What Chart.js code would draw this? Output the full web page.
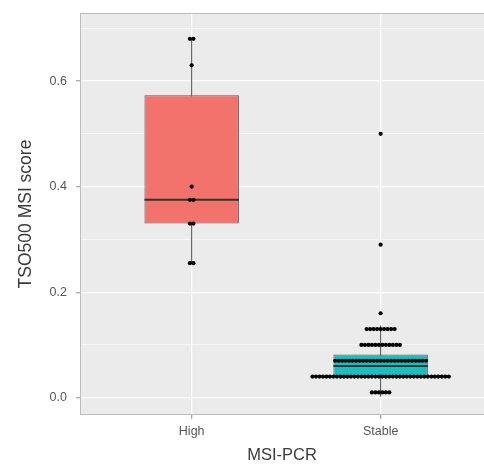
<!DOCTYPE html>
<html>
<head>
<meta charset="utf-8">
<script src="https://cdn.jsdelivr.net/npm/chart.js@4"></script>
<style>
  body { margin: 0; background: #fff; }
</style>
</head>
<body>
<canvas id="boxChart" width="484" height="465"></canvas>
<script>
"use strict";

// MSI-PCR groups
const categories = ["High", "Stable"];
const boxColors = ["#F2736C", "#17BEC3"];

// box summary
const boxLow = [0.33, 0.0415];
const boxHigh = [0.573, 0.082];
const medians = [0.375, 0.06];
const whiskerLow = [0.255, 0.002];
const whiskerHigh = [0.68, 0.137];

// dot rows: value and how many dots stacked at it
const highDotValues = [0.68, 0.63, 0.4, 0.375, 0.33, 0.255];
const highDotCounts = [2, 1, 1, 2, 2, 2];
const stableDotValues = [0.5, 0.29, 0.16, 0.13, 0.1, 0.07, 0.04, 0.01];
const stableDotCounts = [1, 1, 1, 9, 12, 27, 40, 6];

const yTicks = [0, 0.1, 0.2, 0.3, 0.4, 0.5, 0.6, 0.7];

const BOX_WIDTH = 0.5;
const DOT_STEP = 0.0185;

function dotRows(center, values, counts) {
  let pts = [];
  values.forEach(function (v, i) {
    let n = counts[i];
    for (let k = 0; k < n; k++) {
      pts.push({ x: center + (k - (n - 1) / 2) * DOT_STEP, y: v });
    }
  });
  return pts;
}

const dots = dotRows(1, highDotValues, highDotCounts).concat(
  dotRows(2, stableDotValues, stableDotCounts)
);

const isMajor = (v) => Math.abs(Math.round(v * 10) % 2) === 0;

const panelPlugin = {
  id: "panel",
  beforeDraw(chart) {
    const ctx = chart.ctx;
    const a = chart.chartArea;
    ctx.save();
    ctx.fillStyle = "#ffffff";
    ctx.fillRect(0, 0, chart.width, chart.height);
    ctx.fillStyle = "#EBEBEB";
    ctx.fillRect(a.left, a.top, a.right - a.left, a.bottom - a.top);
    ctx.restore();
  },
  beforeDatasetsDraw(chart) {
    const ctx = chart.ctx;
    const a = chart.chartArea;
    ctx.save();
    ctx.strokeStyle = "#BDBDBD";
    ctx.lineWidth = 1;
    ctx.strokeRect(a.left + 0.5, a.top + 0.5, a.right - a.left, a.bottom - a.top - 1);
    ctx.restore();
  },
};

let datasets = [];

categories.forEach(function (c, i) {
  datasets.push({
    type: "scatter",
    showLine: true,
    data: [
      { x: i + 1, y: whiskerLow[i] },
      { x: i + 1, y: whiskerHigh[i] },
    ],
    borderColor: "#4a4a4a",
    borderWidth: 1,
    pointRadius: 0,
    order: 3,
  });
});

datasets.push({
  type: "bar",
  data: categories.map((c, i) => ({ x: i + 1, y: [boxLow[i], boxHigh[i]] })),
  backgroundColor: boxColors,
  borderColor: "#5a5a5a",
  borderWidth: 1,
  borderSkipped: false,
  barPercentage: BOX_WIDTH,
  categoryPercentage: 1,
  order: 2,
});

categories.forEach(function (c, i) {
  datasets.push({
    type: "scatter",
    showLine: true,
    data: [
      { x: i + 1 - BOX_WIDTH / 2, y: medians[i] },
      { x: i + 1 + BOX_WIDTH / 2, y: medians[i] },
    ],
    borderColor: "#333333",
    borderWidth: 2,
    pointRadius: 0,
    order: 1,
  });
});

datasets.push({
  type: "scatter",
  data: dots,
  backgroundColor: "#000000",
  borderColor: "#000000",
  borderWidth: 0,
  pointRadius: 2.1,
  order: 0,
});

const FONT = "'Liberation Sans', Arial, sans-serif";

new Chart(document.getElementById("boxChart").getContext("2d"), {
  type: "bar",
  data: { datasets: datasets },
  options: {
    responsive: false,
    animation: false,
    events: [],
    layout: { autoPadding: false, padding: { top: 13, right: 0, left: 0, bottom: 0 } },
    plugins: {
      legend: { display: false },
      tooltip: { enabled: false },
    },
    scales: {
      x: {
        type: "linear",
        min: 0.409,
        max: 2.547,
        offset: false,
        afterBuildTicks: (scale) => {
          scale.ticks = categories.map((c, i) => ({ value: i + 1 }));
        },
        afterFit: (scale) => {
          scale.height = 50;
          scale.paddingLeft = 0;
          scale.paddingRight = 0;
        },
        ticks: {
          callback: (v) => categories[v - 1],
          color: "#555555",
          font: { family: FONT, size: 12.5 },
          padding: 5,
          maxRotation: 0,
        },
        grid: {
          offset: false,
          color: "#ffffff",
          lineWidth: 1.3,
          tickColor: "#AAAAAA",
          tickLength: 4,
        },
        border: { display: false },
        title: {
          display: true,
          text: "MSI-PCR",
          color: "#3a3a3a",
          font: { family: FONT, size: 16.5 },
          padding: { top: 0, bottom: 0 },
        },
      },
      y: {
        type: "linear",
        min: -0.0328,
        max: 0.729,
        afterBuildTicks: (scale) => {
          scale.ticks = yTicks.map((v) => ({ value: v }));
        },
        afterFit: (scale) => {
          scale.width = 80;
          scale.paddingTop = 0;
          scale.paddingBottom = 0;
        },
        ticks: {
          callback: (v) => (isMajor(v) ? v.toFixed(1) : ""),
          color: "#555555",
          font: { family: FONT, size: 12.5 },
          padding: 9,
        },
        grid: {
          color: "#ffffff",
          lineWidth: (ctx) => (ctx.tick && isMajor(ctx.tick.value) ? 1.3 : 0.6),
          tickColor: (ctx) =>
            ctx.tick && isMajor(ctx.tick.value) ? "#AAAAAA" : "rgba(0,0,0,0)",
          tickLength: 4,
        },
        border: { display: false },
        title: {
          display: true,
          text: "TSO500 MSI score",
          color: "#3a3a3a",
          font: { family: FONT, size: 17.5 },
          padding: { top: 16, bottom: 0 },
        },
      },
    },
  },
  plugins: [panelPlugin],
});
</script>
</body>
</html>
